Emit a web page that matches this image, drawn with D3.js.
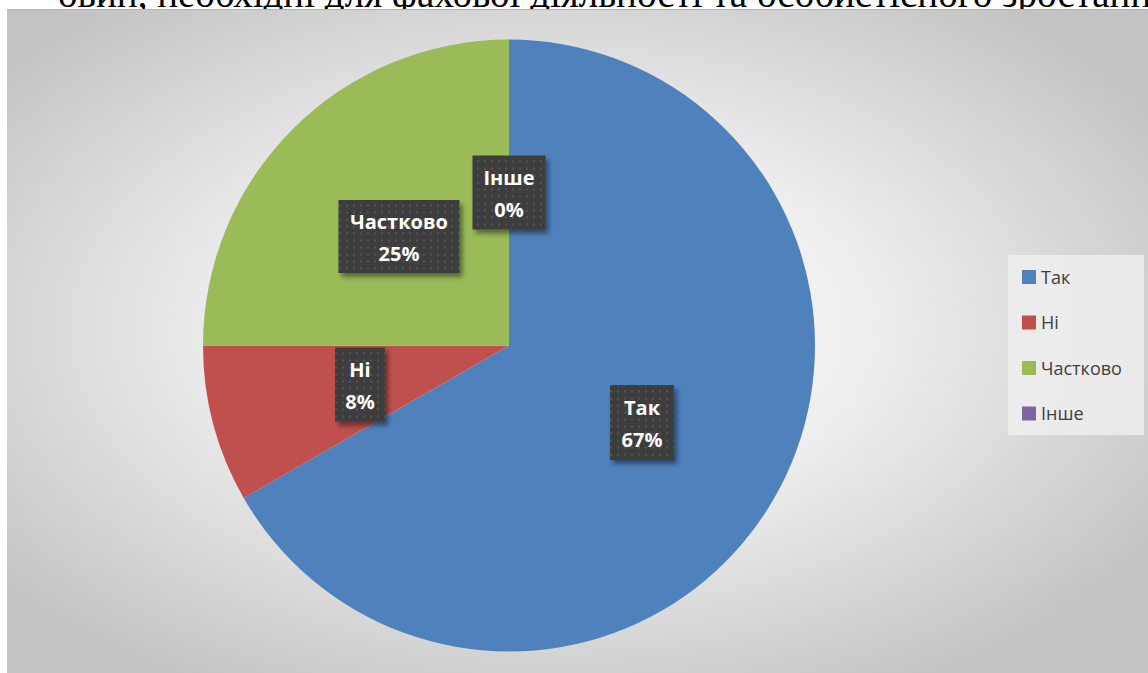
<!DOCTYPE html>
<html>
<head>
<meta charset="utf-8">
<script src="https://cdn.jsdelivr.net/npm/d3@7"></script>
<style>
  body { margin: 0; background: #fff; }
  svg { display: block; }
</style>
</head>
<body>
<div id="chart"></div>
<script>
// data
const categories = ["Так", "Ні", "Частково", "Інше"];
const values = [66.7, 8.3, 25, 0];
const pctLabels = ["67%", "8%", "25%", "0%"];
const colors = ["#4f81bd", "#c0504d", "#9bbb59", "#8064a2"];

const width = 1148, height = 673;
const svg = d3.select("#chart").append("svg")
  .attr("width", width)
  .attr("height", height);

const defs = svg.append("defs");

// radial background like the office preset
const bg = defs.append("radialGradient").attr("id", "bgGrad")
  .attr("cx", "48%").attr("cy", "48%").attr("r", "62%");
bg.append("stop").attr("offset", "0%").attr("stop-color", "#ffffff");
bg.append("stop").attr("offset", "45%").attr("stop-color", "#eeeeee");
bg.append("stop").attr("offset", "100%").attr("stop-color", "#c4c4c4");

// dotted texture for label boxes
const pat = defs.append("pattern").attr("id", "dots")
  .attr("width", 7).attr("height", 7)
  .attr("patternUnits", "userSpaceOnUse");
pat.append("rect").attr("width", 7).attr("height", 7).attr("fill", "#3d3d3d");
pat.append("rect").attr("x", 3).attr("y", 3).attr("width", 2).attr("height", 2).attr("fill", "#555555");

const shadow = defs.append("filter").attr("id", "shadow")
  .attr("x", "-20%").attr("y", "-20%").attr("width", "150%").attr("height", "150%");
shadow.append("feDropShadow")
  .attr("dx", 3).attr("dy", 4).attr("stdDeviation", 2.5)
  .attr("flood-color", "#000").attr("flood-opacity", 0.45);

// cut-off heading text of the page above the chart
svg.append("text")
  .attr("x", 58)
  .attr("y", 7)
  .attr("font-family", "Liberation Serif, Times New Roman, serif")
  .attr("font-size", "39px")
  .attr("fill", "#000")
  .text("овин, необхідні для фахової діяльності та особистісного зростання");

// chart area
const area = { x: 7, y: 9, w: width - 7, h: height - 9 };
svg.append("rect")
  .attr("x", area.x).attr("y", area.y)
  .attr("width", area.w).attr("height", area.h)
  .attr("fill", "url(#bgGrad)");
svg.append("line")
  .attr("x1", area.x).attr("x2", width)
  .attr("y1", area.y + 0.5).attr("y2", area.y + 0.5)
  .attr("stroke", "#b4b4b4");

// pie
const cx = 509, cy = 345.5, radius = 306;
const pie = d3.pie().sort(null).value(d => d)(values);
const arc = d3.arc().innerRadius(0).outerRadius(radius);

const g = svg.append("g").attr("transform", `translate(${cx},${cy})`);
g.selectAll("path.slice")
  .data(pie)
  .enter()
  .append("path")
  .attr("class", "slice")
  .attr("d", arc)
  .attr("fill", (d, i) => colors[i]);

// data labels (box centre offsets relative to pie centre)
const labelPos = [
  { x: 133, y: 77, w: 64, h: 75 },
  { x: -149, y: 39, w: 50, h: 74 },
  { x: -110, y: -109, w: 121, h: 73 },
  { x: 0, y: -153, w: 73, h: 74 }
];

const labels = g.selectAll("g.dlabel")
  .data(pie)
  .enter()
  .append("g")
  .attr("class", "dlabel")
  .attr("transform", (d, i) => `translate(${labelPos[i].x},${labelPos[i].y})`);

labels.append("rect")
  .attr("x", (d, i) => -labelPos[i].w / 2)
  .attr("y", (d, i) => -labelPos[i].h / 2)
  .attr("width", (d, i) => labelPos[i].w)
  .attr("height", (d, i) => labelPos[i].h)
  .attr("fill", "url(#dots)")
  .attr("filter", "url(#shadow)");

labels.append("text")
  .attr("text-anchor", "middle")
  .attr("y", -8)
  .attr("font-family", "Open Sans, sans-serif")
  .attr("font-weight", "bold")
  .attr("font-size", "20px")
  .attr("fill", "#fff")
  .text((d, i) => categories[i]);

labels.append("text")
  .attr("text-anchor", "middle")
  .attr("y", 24)
  .attr("font-family", "Open Sans, sans-serif")
  .attr("font-weight", "bold")
  .attr("font-size", "20px")
  .attr("fill", "#fff")
  .text((d, i) => pctLabels[i]);

// legend
const legend = svg.append("g").attr("transform", "translate(1008,255)");
legend.append("rect")
  .attr("width", 136).attr("height", 180)
  .attr("fill", "#efefef").attr("opacity", 0.85);

const item = legend.selectAll("g.item")
  .data(categories)
  .enter()
  .append("g")
  .attr("class", "item")
  .attr("transform", (d, i) => `translate(14,${22 + i * 45.5})`);

item.append("rect")
  .attr("x", 0).attr("y", -7)
  .attr("width", 14).attr("height", 14)
  .attr("fill", (d, i) => colors[i]);

item.append("text")
  .attr("x", 19)
  .attr("y", 6.5)
  .attr("font-family", "Open Sans, sans-serif")
  .attr("font-size", "18px")
  .attr("fill", "#404040")
  .text(d => d);
</script>
</body>
</html>
